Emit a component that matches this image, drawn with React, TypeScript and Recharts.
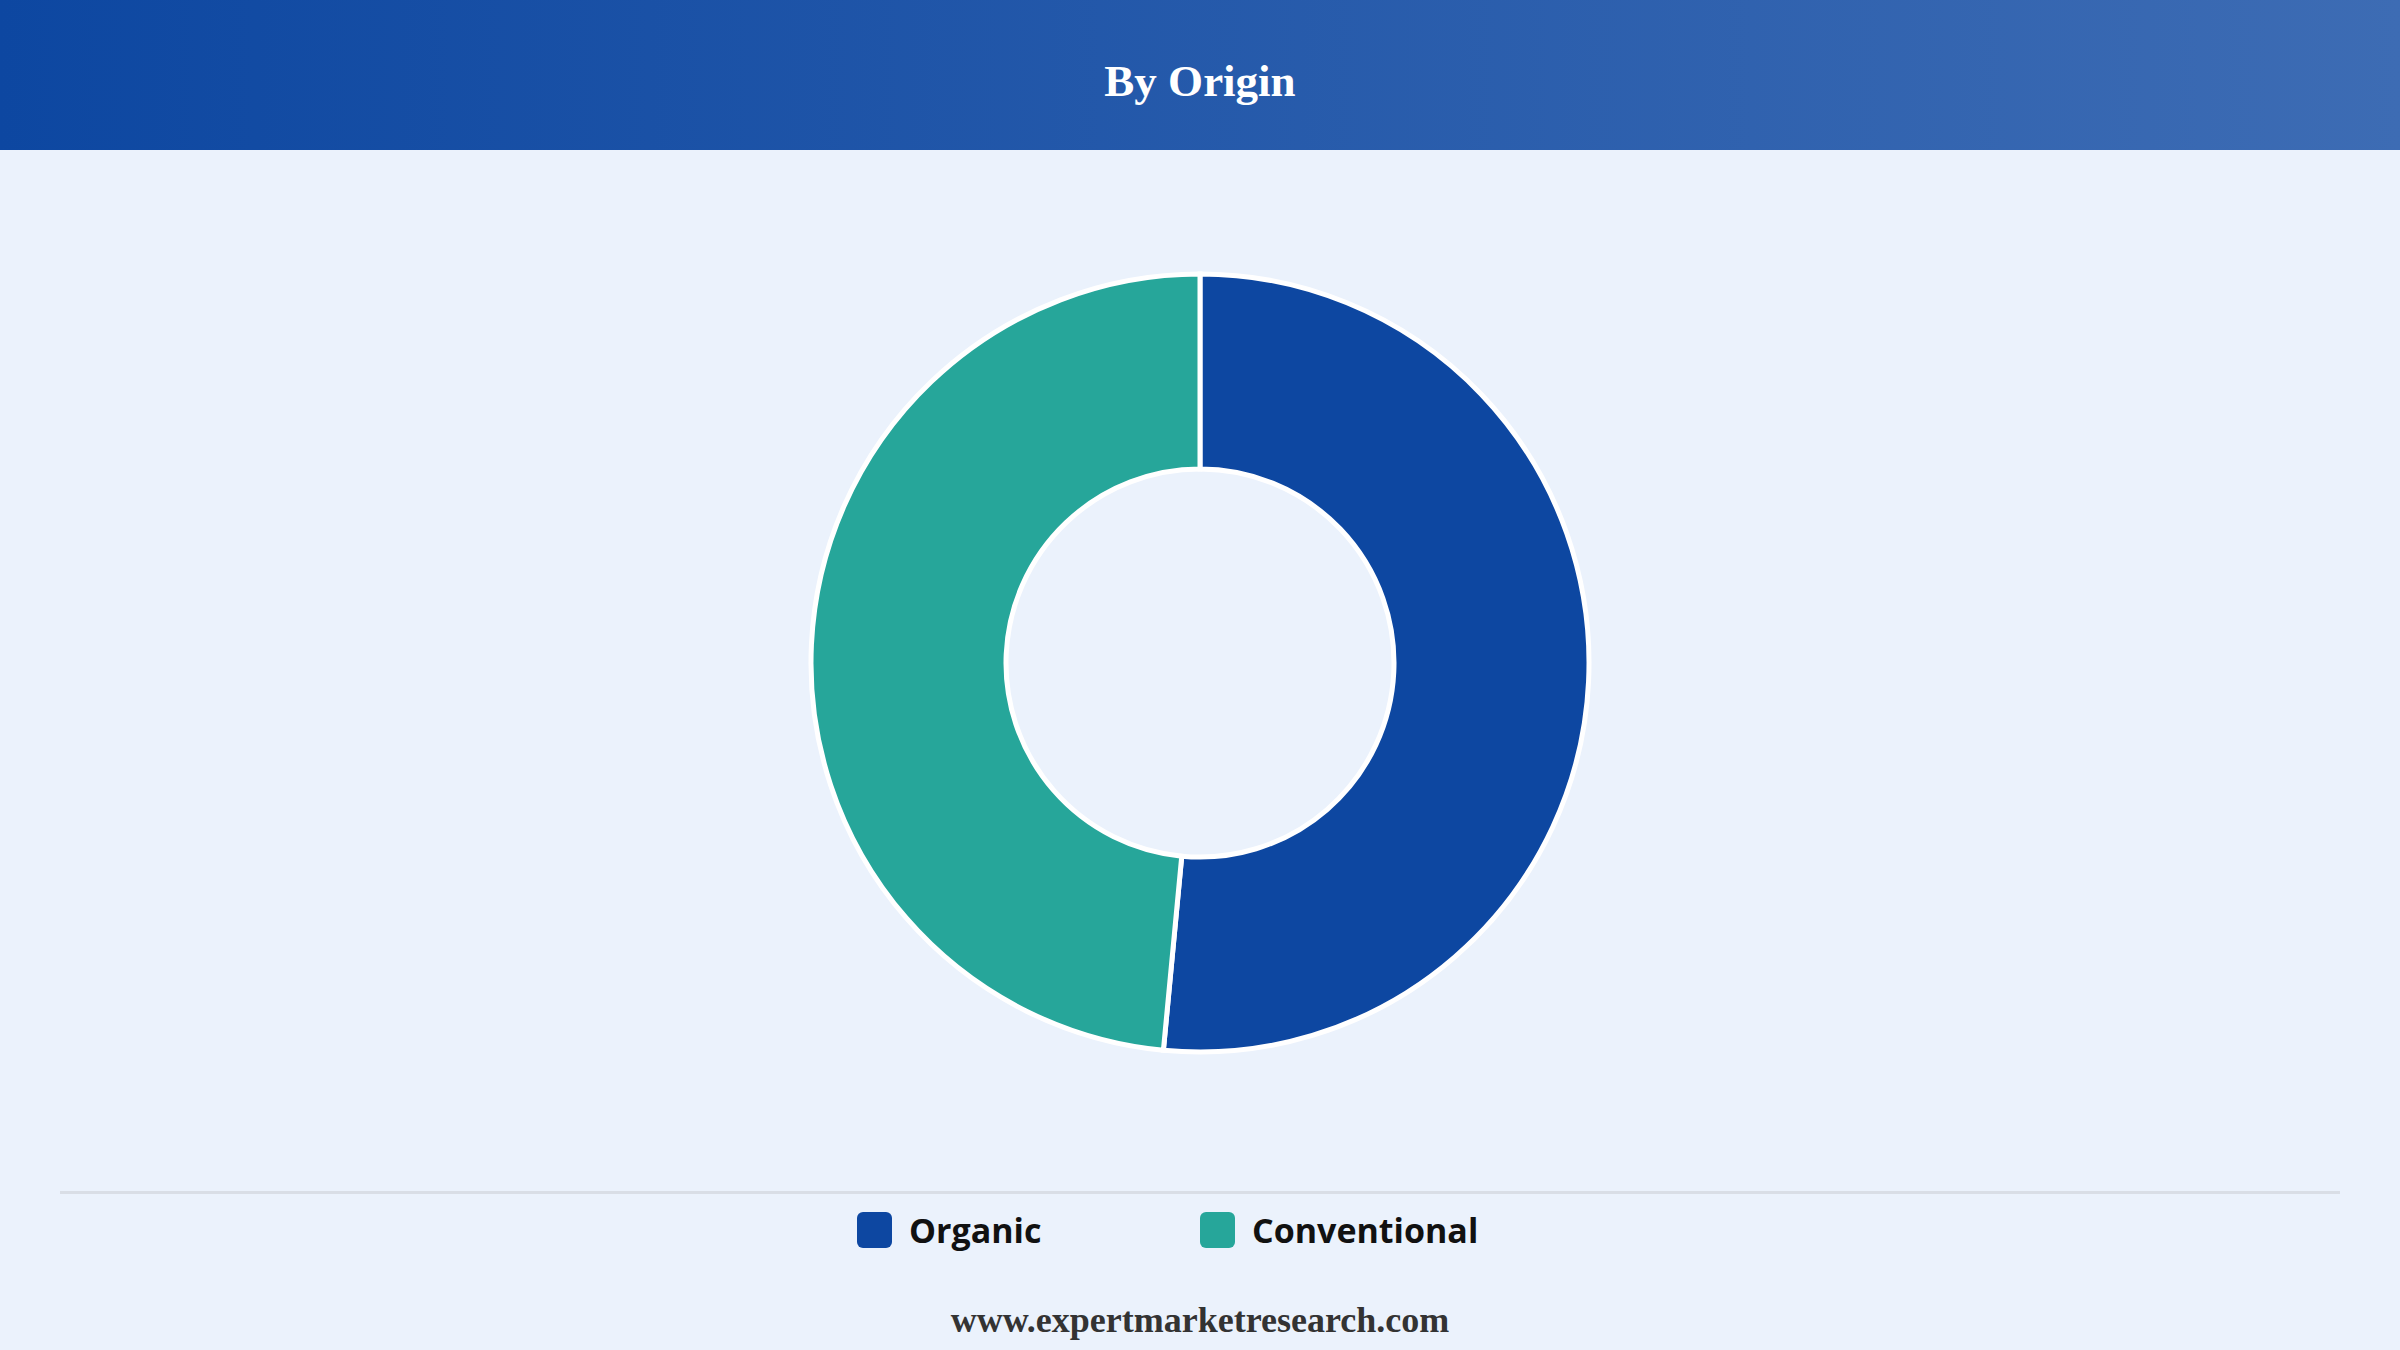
import React from 'react';
import { PieChart, Pie, Cell } from 'recharts';

const categories = ['Organic', 'Conventional'];
const shares = [51.5, 48.5];
const colors = ['#0D47A1', '#26A69A'];

const data = categories.map((name, i) => ({ name, value: shares[i] }));

export default function App() {
  React.useEffect(() => {
    document.body.style.margin = '0';
  }, []);

  return (
    <div
      style={{
        position: 'absolute',
        left: 0,
        top: 0,
        width: 2400,
        height: 1350,
        background: '#EBF2FC',
        overflow: 'hidden',
      }}
    >
      <div
        style={{
          height: 150,
          boxSizing: 'border-box',
          paddingTop: 12,
          background: 'linear-gradient(90deg, #0D47A1 0%, #3D6CB4 100%)',
          display: 'flex',
          alignItems: 'center',
          justifyContent: 'center',
          color: '#fff',
          fontFamily: '"Liberation Serif", "Times New Roman", serif',
          fontWeight: 700,
          fontSize: 45,
        }}
      >
        By Origin
      </div>

      <div style={{ position: 'absolute', left: 0, top: 150 }}>
        <PieChart
          width={2400}
          height={1030}
          margin={{ top: 0, right: 0, bottom: 0, left: 0 }}
        >
          <Pie
            data={data}
            dataKey="value"
            nameKey="name"
            cx={1200}
            cy={513}
            innerRadius={194}
            outerRadius={389}
            startAngle={90}
            endAngle={-270}
            stroke="#ffffff"
            strokeWidth={5}
            isAnimationActive={false}
          >
            {data.map((d, i) => (
              <Cell key={d.name} fill={colors[i]} />
            ))}
          </Pie>
        </PieChart>
      </div>

      <div
        style={{
          position: 'absolute',
          left: 60,
          width: 2280,
          top: 1191,
          height: 3,
          background: '#D9DEE6',
        }}
      />

      <div
        style={{
          position: 'absolute',
          top: 1210,
          left: 0,
          width: 2400,
          display: 'flex',
          justifyContent: 'center',
        }}
      >
        {categories.map((name, i) => (
          <div
            key={name}
            style={{ width: 343, display: 'flex', alignItems: 'center' }}
          >
            <div
              style={{
                width: 35,
                height: 36,
                borderRadius: 6,
                background: colors[i],
                marginRight: 17,
              }}
            />
            <span
              style={{
                fontFamily: '"Open Sans", "Noto Sans", sans-serif',
                fontWeight: 700,
                fontSize: 34,
                color: '#111',
                lineHeight: '40px',
              }}
            >
              {name}
            </span>
          </div>
        ))}
      </div>

      <div
        style={{
          position: 'absolute',
          top: 1299,
          left: 0,
          width: 2400,
          textAlign: 'center',
          fontFamily: '"Liberation Serif", "Times New Roman", serif',
          fontWeight: 700,
          fontSize: 36,
          color: '#333',
        }}
      >
        www.expertmarketresearch.com
      </div>
    </div>
  );
}
